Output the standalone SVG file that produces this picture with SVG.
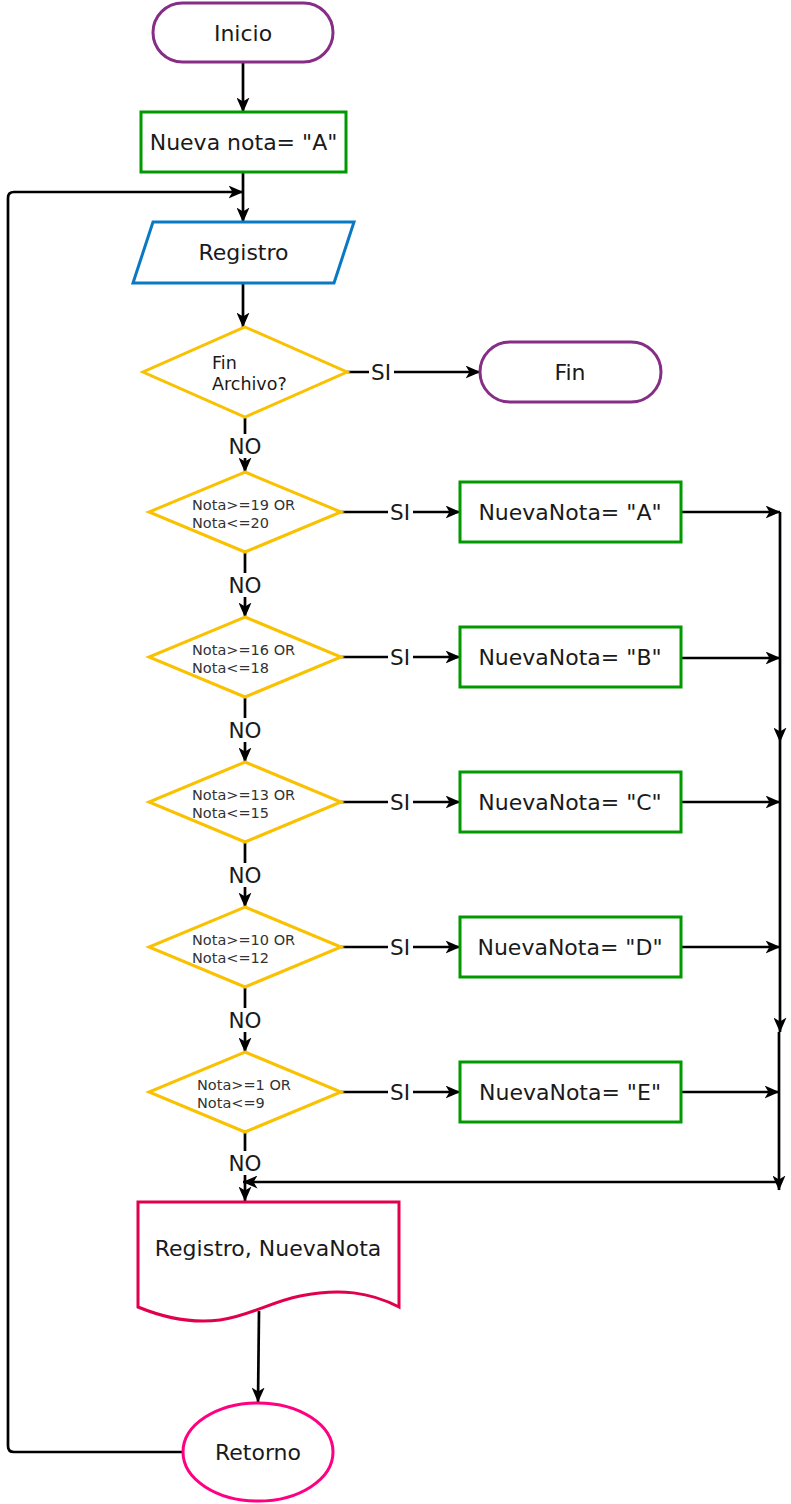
<svg xmlns="http://www.w3.org/2000/svg" width="791" height="1504" viewBox="0 0 791 1504">
<style>
text{font-family:"DejaVu Sans","Verdana",sans-serif;fill:#1a1a1a}
.main{font-size:22px;text-anchor:middle}
.cond{font-size:14.5px;fill:#333}
.fa{font-size:17.5px}
.lbl{font-size:21.5px;text-anchor:middle}
.term{fill:#fff;stroke:#862d86;stroke-width:3}
.proc{fill:#fff;stroke:#009900;stroke-width:3}
.dec{fill:#fff;stroke:#f9c100;stroke-width:3}
.conn path{fill:none;stroke:#000;stroke-width:2.7}
.lb{fill:#fff}
</style>
<defs>
<marker id="arr" viewBox="0 0 15 13" refX="14.5" refY="6.5" markerWidth="15" markerHeight="13" markerUnits="userSpaceOnUse" orient="auto"><path d="M0,0 L15,6.5 L0,13 L4,6.5 z" fill="#000"/></marker>
</defs>
<rect width="791" height="1504" fill="#fff"/>
<g class="conn" id="connectors">
<path d="M243,62 V112" marker-end="url(#arr)"/>
<path d="M243,172 V222" marker-end="url(#arr)"/>
<path d="M243,283 V327" marker-end="url(#arr)"/>
<path d="M347,372 H480" marker-end="url(#arr)"/>
<path d="M245,417 V472" marker-end="url(#arr)"/>
<path d="M341,512 H460" marker-end="url(#arr)"/>
<path d="M245,552 V617" marker-end="url(#arr)"/>
<path d="M341,657 H460" marker-end="url(#arr)"/>
<path d="M245,697 V762" marker-end="url(#arr)"/>
<path d="M341,802 H460" marker-end="url(#arr)"/>
<path d="M245,842 V907" marker-end="url(#arr)"/>
<path d="M341,947 H460" marker-end="url(#arr)"/>
<path d="M245,987 V1052" marker-end="url(#arr)"/>
<path d="M341,1092 H460" marker-end="url(#arr)"/>
<path d="M245,1132 V1201" marker-end="url(#arr)"/>
<path d="M681,512 H780" marker-end="url(#arr)"/>
<path d="M681,658 H780" marker-end="url(#arr)"/>
<path d="M681,802 H780" marker-end="url(#arr)"/>
<path d="M681,947 H780" marker-end="url(#arr)"/>
<path d="M681,1092 H779" marker-end="url(#arr)"/>
<path d="M780,512 V742" marker-end="url(#arr)"/>
<path d="M780,742 V1032" marker-end="url(#arr)"/>
<path d="M779,1032 V1190" marker-end="url(#arr)"/>
<path d="M779,1182 H243" marker-end="url(#arr)"/>
<path d="M259,1311 L258,1402" marker-end="url(#arr)"/>
<path d="M183,1452 H14 Q8,1452 8,1446 V198 Q8,192 14,192 H243" marker-end="url(#arr)"/>
<rect class="lb" x="369" y="361" width="25" height="24"/><text class="lbl" x="381" y="380">SI</text>
<rect class="lb" x="228" y="434" width="34" height="24"/><text class="lbl" x="245" y="454">NO</text>
<rect class="lb" x="388" y="500" width="25" height="24"/><text class="lbl" x="400" y="520">SI</text>
<rect class="lb" x="228" y="573" width="34" height="24"/><text class="lbl" x="245" y="593">NO</text>
<rect class="lb" x="388" y="645" width="25" height="24"/><text class="lbl" x="400" y="665">SI</text>
<rect class="lb" x="228" y="718" width="34" height="24"/><text class="lbl" x="245" y="738">NO</text>
<rect class="lb" x="388" y="790" width="25" height="24"/><text class="lbl" x="400" y="810">SI</text>
<rect class="lb" x="228" y="863" width="34" height="24"/><text class="lbl" x="245" y="883">NO</text>
<rect class="lb" x="388" y="935" width="25" height="24"/><text class="lbl" x="400" y="955">SI</text>
<rect class="lb" x="228" y="1008" width="34" height="24"/><text class="lbl" x="245" y="1028">NO</text>
<rect class="lb" x="388" y="1080" width="25" height="24"/><text class="lbl" x="400" y="1100">SI</text>
<rect class="lb" x="228" y="1151" width="34" height="24"/><text class="lbl" x="245" y="1171">NO</text>
</g>
<g id="inicio"><rect class="term" x="153" y="3" width="180" height="59" rx="29.5"/><text class="main" x="243" y="41">Inicio</text></g>
<g id="nueva-nota"><rect class="proc" x="141" y="112" width="205" height="60"/><text class="main" x="243.5" y="150">Nueva nota= "A"</text></g>
<g id="registro"><polygon points="133,283 153,222 354,222 334,283" fill="#fff" stroke="#0a79c4" stroke-width="3"/><text class="main" x="243.5" y="260">Registro</text></g>
<g id="fin-archivo"><polygon class="dec" points="245,327 347,372 245,417 143,372"/><text class="fa" x="212" y="369">Fin</text><text class="fa" x="212" y="390">Archivo?</text></g>
<g id="fin"><rect class="term" x="480" y="342" width="181" height="60" rx="30"/><text class="main" x="570" y="380">Fin</text></g>
<g id="dec1"><polygon class="dec" points="245,472 341,512 245,552 149,512"/><text class="cond" x="192" y="510">Nota&gt;=19 OR</text><text class="cond" x="192" y="528">Nota&lt;=20</text></g>
<g id="dec2"><polygon class="dec" points="245,617 341,657 245,697 149,657"/><text class="cond" x="192" y="655">Nota&gt;=16 OR</text><text class="cond" x="192" y="673">Nota&lt;=18</text></g>
<g id="dec3"><polygon class="dec" points="245,762 341,802 245,842 149,802"/><text class="cond" x="192" y="800">Nota&gt;=13 OR</text><text class="cond" x="192" y="818">Nota&lt;=15</text></g>
<g id="dec4"><polygon class="dec" points="245,907 341,947 245,987 149,947"/><text class="cond" x="192" y="945">Nota&gt;=10 OR</text><text class="cond" x="192" y="963">Nota&lt;=12</text></g>
<g id="dec5"><polygon class="dec" points="245,1052 341,1092 245,1132 149,1092"/><text class="cond" x="197" y="1090">Nota&gt;=1 OR</text><text class="cond" x="197" y="1108">Nota&lt;=9</text></g>
<g id="nota-a"><rect class="proc" x="460" y="482" width="221" height="60"/><text class="main" x="570" y="520">NuevaNota= "A"</text></g>
<g id="nota-b"><rect class="proc" x="460" y="627" width="221" height="60"/><text class="main" x="570" y="665">NuevaNota= "B"</text></g>
<g id="nota-c"><rect class="proc" x="460" y="772" width="221" height="60"/><text class="main" x="570" y="810">NuevaNota= "C"</text></g>
<g id="nota-d"><rect class="proc" x="460" y="917" width="221" height="60"/><text class="main" x="570" y="955">NuevaNota= "D"</text></g>
<g id="nota-e"><rect class="proc" x="460" y="1062" width="221" height="60"/><text class="main" x="570" y="1100">NuevaNota= "E"</text></g>
<g id="salida"><path d="M138,1202 H399 V1307 C370,1292 340,1288 300,1296 C270,1302 250,1316 220,1320 C190,1324 160,1316 138,1307 Z" fill="#fff" stroke="#e0004d" stroke-width="3"/><text class="main" x="268" y="1256">Registro, NuevaNota</text></g>
<g id="retorno"><ellipse cx="258" cy="1452" rx="75" ry="49" fill="#fff" stroke="#ff0080" stroke-width="3"/><text class="main" x="258" y="1460">Retorno</text></g>
</svg>
